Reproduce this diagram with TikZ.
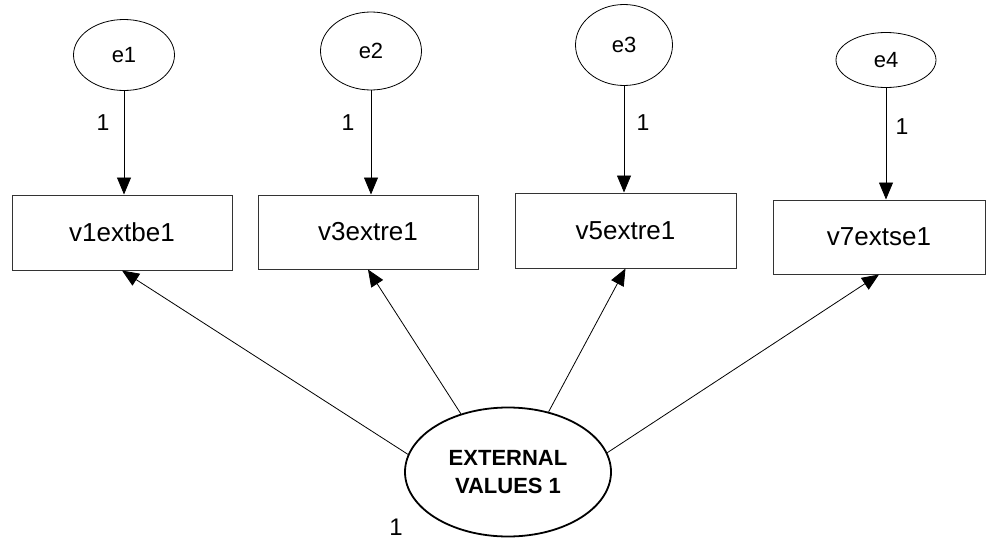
\documentclass[tikz,border=0pt]{standalone}
\usepackage{fontspec}
\setmainfont{Liberation Sans}
\usetikzlibrary{arrows.meta,shapes.geometric}
\begin{document}
\begin{tikzpicture}[x=1pt,y=-1pt,
  errnode/.style={draw=black,line width=0.8pt,ellipse,inner sep=0pt,font=\fontsize{22}{24}\selectfont},
  obsbox/.style={draw=black!80,line width=1pt,rectangle,inner sep=0pt,font=\fontsize{26}{28}\selectfont},
  latent/.style={draw=black,line width=1.8pt,ellipse,inner sep=0pt,align=center,
    font=\fontsize{22}{28}\selectfont\bfseries},
  arr/.style={draw=black,line width=0.8pt,-{Triangle[length=17pt,width=14pt]}},
  wlabel/.style={font=\fontsize{23}{24}\selectfont,inner sep=0pt}]
\useasboundingbox (0,0) rectangle (986,541);

% error terms
\node[errnode,minimum width=101pt,minimum height=71pt] (e1) at (124,55) {e1};
\node[errnode,minimum width=101pt,minimum height=78pt] (e2) at (371,51) {e2};
\node[errnode,minimum width=97pt,minimum height=81pt] (e3) at (624,45) {e3};
\node[errnode,minimum width=100pt,minimum height=55pt] (e4) at (886,60) {e4};

% observed variables
\node[obsbox,minimum width=220pt,minimum height=75pt] (v1) at (122,232.5) {v1extbe1};
\node[obsbox,minimum width=220pt,minimum height=74pt] (v3) at (368,232) {v3extre1};
\node[obsbox,minimum width=221pt,minimum height=75pt] (v5) at (625.5,230.5) {v5extre1};
\node[obsbox,minimum width=212pt,minimum height=74pt] (v7) at (879,237) {v7extse1};

% latent factor
\node[latent,minimum width=206pt,minimum height=129pt] (F) at (508,472) {EXTERNAL\\VALUES 1};

% error paths
\draw[arr] (e1.south) -- (e1.south |- v1.north);
\draw[arr] (e2.south) -- (e2.south |- v3.north);
\draw[arr] (e3.south) -- (e3.south |- v5.north);
\draw[arr] (e4.south) -- (e4.south |- v7.north);

% loadings
\draw[arr] (F.170) -- (v1.south);
\draw[arr] (F.129) -- (v3.south);
\draw[arr] (F.56) -- (v5.south);
\draw[arr] (F.11) -- (v7.south);

% fixed weights
\node[wlabel] (w1) at (103,123) {1};
\node[wlabel] (w2) at (348,123) {1};
\node[wlabel] (w3) at (643,123) {1};
\node[wlabel] (w4) at (902,127) {1};
\node[wlabel,font=\fontsize{24}{24}\selectfont] (wF) at (396,527) {1};
\end{tikzpicture}
\end{document}
